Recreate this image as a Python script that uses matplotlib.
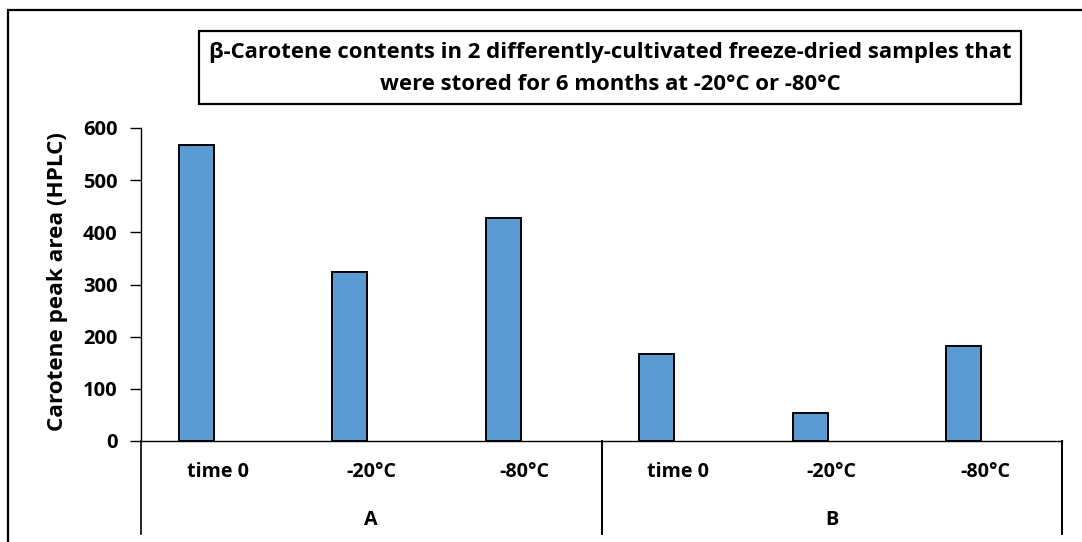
import matplotlib.pyplot as plt
import matplotlib.transforms as mtransforms
from matplotlib.patches import Rectangle

groups = ["A", "B"]
conditions = ["time 0", "-20°C", "-80°C"]
peak_area = [568, 324, 427, 166, 53, 183]

title = ("β-Carotene contents in 2 differently-cultivated freeze-dried samples that\n"
         "were stored for 6 months at -20°C or -80°C")
ylabel = "Carotene peak area (HPLC)"

plt.rcParams["font.family"] = ["Open Sans", "DejaVu Sans"]
plt.rcParams["font.weight"] = "bold"

W, H = 1082, 542
fig = plt.figure(figsize=(W / 100, H / 100), dpi=100)


def fx(px):
    return px / W


def fy(py):
    return 1 - py / H


# outer chart border (cropped on right and bottom like the reference)
fig.patches.append(Rectangle((fx(8), fy(600)), fx(1200), fy(10) - fy(600),
                             transform=fig.transFigure, fill=False,
                             edgecolor="#000000", linewidth=1.6))

ax = fig.add_axes([fx(141), fy(441), fx(1062) - fx(141), fy(128) - fy(441)])

n = len(peak_area)
xs = [i + 0.5 - 0.14 for i in range(n)]
ax.bar(xs, peak_area, width=0.228, color="#5B9BD5", edgecolor="#000000", linewidth=1.4,
       zorder=3)

ax.set_xlim(0, n)
ax.set_ylim(0, 600)
ax.set_yticks(range(0, 601, 100))
ax.tick_params(axis="y", direction="out", length=8, width=1, labelsize=14.5, pad=9)
ax.set_xticks([])
for s in ["top", "right"]:
    ax.spines[s].set_visible(False)
ax.spines["left"].set_linewidth(1)
ax.spines["bottom"].set_color("#000000")
ax.spines["bottom"].set_linewidth(1)
ax.spines["left"].set_bounds(0, 600)

fig.text(fx(58), fy(282), ylabel, rotation=90, ha="center", va="center",
         fontsize=16.2, fontweight="bold")

# multi-level category axis
trans = mtransforms.blended_transform_factory(ax.transData, fig.transFigure)
for i in range(n):
    ax.text(i + 0.5, fy(472), conditions[i % len(conditions)], transform=trans,
            ha="center", va="center", fontsize=14.2, fontweight="bold")
for g, name in enumerate(groups):
    ax.text(g * 3 + 1.5, fy(520), name, transform=trans,
            ha="center", va="center", fontsize=14.2, fontweight="bold")
for xdiv in [0, 3, 6]:
    ax.plot([xdiv, xdiv], [fy(441), fy(534)], transform=trans, color="#000000",
            linewidth=1.4 if xdiv else 1.2, clip_on=False)

# title in a boxed frame
fig.patches.append(Rectangle((fx(199), fy(104)), fx(1021) - fx(199), fy(31) - fy(104),
                             transform=fig.transFigure, fill=False,
                             edgecolor="#000000", linewidth=1.6))
fig.text(fx(610), fy(68.5), title, ha="center", va="center", fontsize=15.9,
         fontweight="bold", linespacing=1.7)

fig.savefig("out.png", dpi=100)
